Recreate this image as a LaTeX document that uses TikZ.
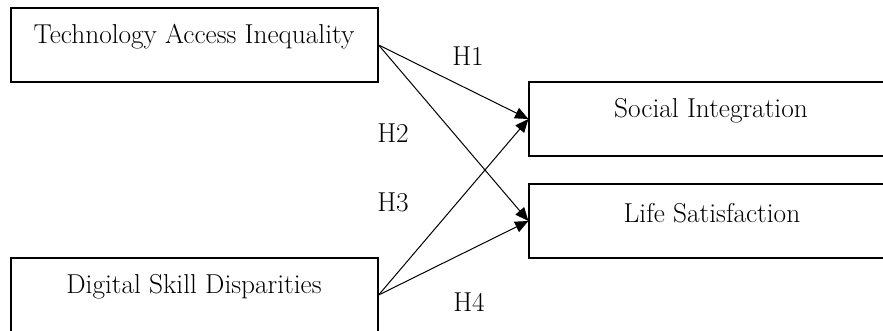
\documentclass[tikz,border=0pt]{standalone}
\usetikzlibrary{arrows.meta}
\begin{document}
\begin{tikzpicture}[x=0.75pt,y=-0.75pt,
  boxnode/.style={draw=black, line width=0.9pt, rectangle, inner sep=0pt},
  txt/.style={font=\fontsize{20.5}{24}\selectfont, inner sep=0pt, anchor=center},
  hlab/.style={font=\fontsize{20.5}{24}\selectfont, inner sep=0pt},
  arr/.style={line width=0.75pt, -{Triangle[length=10pt,width=8.5pt]}}]
\useasboundingbox (0,0) rectangle (883,331);
\clip (0,0) rectangle (883,331);
% boxes
\node[boxnode, minimum width=367*0.75pt, minimum height=74*0.75pt] (tai) at (194.5,45) {};
\node[boxnode, minimum width=367*0.75pt, minimum height=74*0.75pt] (dsd) at (194.5,295) {};
\node[boxnode, minimum width=370*0.75pt, minimum height=74*0.75pt] (si) at (714,119) {};
\node[boxnode, minimum width=370*0.75pt, minimum height=74*0.75pt] (ls) at (714,221) {};
% texts
\node[txt] (taitxt) at (194,37) {Technology Access Inequality};
\node[txt] (dsdtxt) at (194,287) {Digital Skill Disparities};
\node[txt] (sitxt) at (711,111) {Social Integration};
\node[txt] (lstxt) at (712,213) {Life Satisfaction};
% arrows
\draw[arr] (tai.east) -- (si.west);
\draw[arr] (tai.east) -- (ls.west);
\draw[arr] (dsd.east) -- (si.west);
\draw[arr] (dsd.east) -- (ls.west);
% labels
\node[hlab] (h1) at (468,56) {H1};
\node[hlab] (h2) at (393,133) {H2};
\node[hlab] (h3) at (393,202) {H3};
\node[hlab] (h4) at (469,302) {H4};
\end{tikzpicture}
\end{document}
